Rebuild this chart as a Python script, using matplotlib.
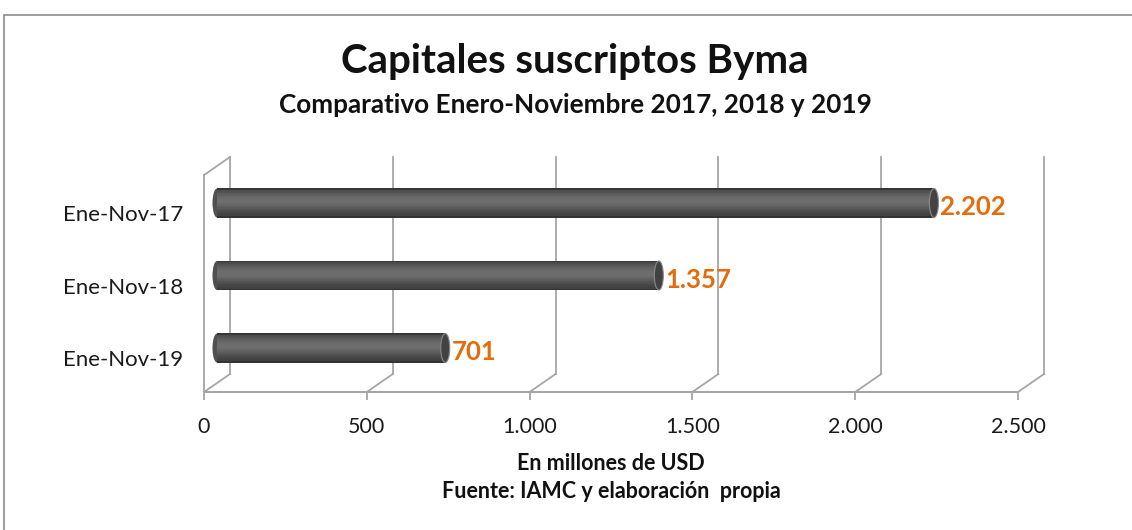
import numpy as np
import matplotlib.pyplot as plt
from matplotlib.patches import Ellipse, Rectangle
from matplotlib.ticker import FuncFormatter

plt.rcParams['font.family'] = ['Lato', 'DejaVu Sans']

categorias = ['Ene-Nov-19', 'Ene-Nov-18', 'Ene-Nov-17']
valores = [701, 1357, 2202]
xticks = [0, 500, 1000, 1500, 2000, 2500]

W, H = 1132, 530
fig = plt.figure(figsize=(W / 100, H / 100), dpi=100)

# marco exterior del grafico
fig.patches.append(Rectangle((4 / W, -0.1), 1.2, 1.1 - 15 / H, transform=fig.transFigure,
                             fill=False, edgecolor='#8c8c8c', lw=1.2))

# ejes: piso frontal en y=392 px, tope del fondo en y=157 px
x0px, x1px, ybpx, ytpx = 204, 1018, 392, 157
ax = fig.add_axes([x0px / W, (H - ybpx) / H, (x1px - x0px) / W, (ybpx - ytpx) / H])
ax.set_xlim(0, 2500)
pk = 72.5  # px por categoria
ylo = -44 / pk
yhi = ylo + (ybpx - ytpx) / pk
ax.set_ylim(ylo, yhi)

px_x = 2500 / (x1px - x0px)
px_y = 1 / pk
dx, dy = 26 * px_x, 18 * px_y

gris = '#a6a6a6'
for v in xticks:
    ax.plot([v, v + dx], [ylo, ylo + dy], color=gris, lw=1.3, clip_on=False, zorder=1)
    ax.plot([v + dx, v + dx], [ylo + dy, yhi], color=gris, lw=1.3, clip_on=False, zorder=1)
# pared izquierda
ax.plot([0, 0], [ylo, yhi - dy], color=gris, lw=1.3, clip_on=False, zorder=1)
ax.plot([0, dx], [yhi - dy, yhi], color=gris, lw=1.3, clip_on=False, zorder=1)

# barras cilindricas
pos = np.arange(len(categorias))
h = 14.5 * px_y
n = 40
t = np.linspace(-1, 1, n)
shade = 0.25 + 0.18 * np.cos((t - 0.15) * np.pi / 2.2) ** 2
shade[t > 0.9] -= 0.06
shade[t < -0.9] -= 0.05
xs = dx / 2
capw = 9 * px_x
for k, v in zip(pos, valores):
    yc = k
    ax.add_patch(Ellipse((xs, yc), capw, 2 * h, color='#505050', lw=0, zorder=2))
    for j in range(n):
        g = shade[j]
        ax.barh(yc + t[j] * h, v, height=2 * h / n * 1.05, left=xs, color=(g, g, g),
                lw=0, zorder=3)
    ax.add_patch(Ellipse((xs + v, yc), capw, 2 * h, facecolor='#424242',
                         edgecolor='#8a8a8a', lw=0.8, zorder=4))
    ax.text(xs + v + capw / 2 + 2 * px_x, yc - 4 * px_y, f'{v:,}'.replace(',', '.'),
            color='#e46c0a', fontsize=18.5, fontweight='bold', va='center', ha='left')

ax.set_yticks(pos - 10 * px_y)
ax.set_yticklabels(categorias)
ax.set_xticks(xticks)
ax.xaxis.set_major_formatter(FuncFormatter(lambda v, p: f'{int(v):,}'.replace(',', '.')))
ax.tick_params(axis='y', length=0, pad=15, labelsize=16, labelcolor='#1a1a1a')
ax.tick_params(axis='x', length=6, color=gris, width=1.3, pad=12, labelsize=15.5,
               labelcolor='#1a1a1a')
for s in ['top', 'right', 'left']:
    ax.spines[s].set_visible(False)
ax.spines['bottom'].set_color(gris)
ax.spines['bottom'].set_linewidth(1.5)

fig.text(575 / W, 1 - 62 / H, 'Capitales suscriptos Byma', ha='center', va='center',
         fontsize=29, fontweight='bold', color='#111111')
fig.text(575 / W, 1 - 105 / H, 'Comparativo Enero-Noviembre 2017, 2018 y 2019', ha='center',
         va='center', fontsize=18.8, fontweight='bold', color='#111111')
fig.text(611 / W, 1 - 463 / H, 'En millones de USD', ha='center', va='center',
         fontsize=15.5, fontweight='bold', color='#111111')
fig.text(611 / W, 1 - 491 / H, 'Fuente: IAMC y elaboración  propia', ha='center', va='center',
         fontsize=15.5, fontweight='bold', color='#111111')

fig.savefig('out.png', dpi=100)
